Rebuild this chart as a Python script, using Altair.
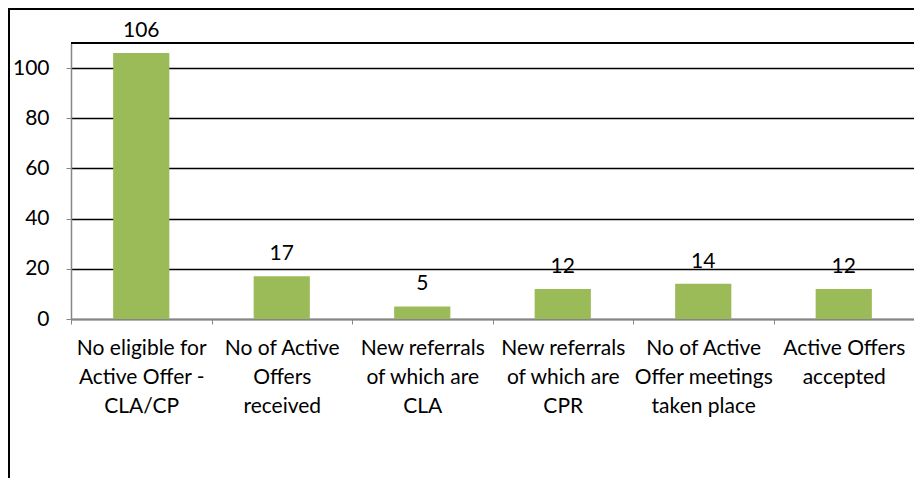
import altair as alt
import pandas as pd

categories = [
    "No eligible for\nActive Offer -\nCLA/CP",
    "No of Active\nOffers\nreceived",
    "New referrals\nof which are\nCLA",
    "New referrals\nof which are\nCPR",
    "No of Active\nOffer meetings\ntaken place",
    "Active Offers\naccepted",
]
values = [106, 17, 5, 12, 14, 12]
y_ticks = [0, 20, 40, 60, 80, 100]
y_max = 110

df = pd.DataFrame({"cat": categories, "val": values})
W, H = 843, 276
FONT = "Lato"
FS = 21

x_enc = alt.X(
    "cat:N", sort=categories,
    scale=alt.Scale(paddingInner=0, paddingOuter=0),
    axis=alt.Axis(
        title=None, labelAngle=0, labelExpr="split(datum.label, '\\n')",
        labelFont=FONT, labelFontSize=FS, labelColor="#000000", labelLineHeight=29,
        labelPadding=13, labelBaseline="top",
        tickBand="extent", tickSize=5, tickColor="#868686",
        domainColor="#868686", domainWidth=1.5, grid=False,
    ),
)
y_scale = alt.Scale(domain=[0, y_max], nice=False)
y_enc = alt.Y(
    "val:Q", scale=y_scale,
    axis=alt.Axis(
        title=None, values=y_ticks, labelFont=FONT, labelFontSize=FS,
        labelColor="#000000", labelPadding=17, tickSize=5, tickColor="#868686",
        domainColor="#868686", domainWidth=1.5,
        grid=True, gridColor="#000000", gridWidth=1.4,
    ),
)

base = alt.Chart(df)
bars = base.mark_bar(color="#9BBB59", width={"band": 0.4}).encode(x=x_enc, y=y_enc)
labels = base.mark_text(dy=-22, baseline="middle", font=FONT, fontSize=FS, color="#000000").encode(
    x=alt.X("cat:N", sort=categories), y=alt.Y("val:Q"), text="val:Q"
)
top = alt.Chart(pd.DataFrame({"top": [y_max]})).mark_rule(color="#000000", strokeWidth=1.8).encode(
    y=alt.Y("top:Q", scale=y_scale)
)
frame = alt.Chart(pd.DataFrame({"a": [0]})).mark_rect(
    fill=None, stroke="#000000", strokeWidth=2
).encode(
    x=alt.value(-62), x2=alt.value(W + 200), y=alt.value(-34), y2=alt.value(H + 400)
)

chart = alt.layer(top, bars, labels, frame).properties(
    width=W, height=H,
    autosize=alt.AutoSizeParams(type="none"),
    padding={"left": 63, "top": 35, "right": 0, "bottom": 159},
).configure_view(stroke=None).configure(background="#ffffff")

chart.save("out.html", embed_options={"renderer": "svg", "actions": False})
